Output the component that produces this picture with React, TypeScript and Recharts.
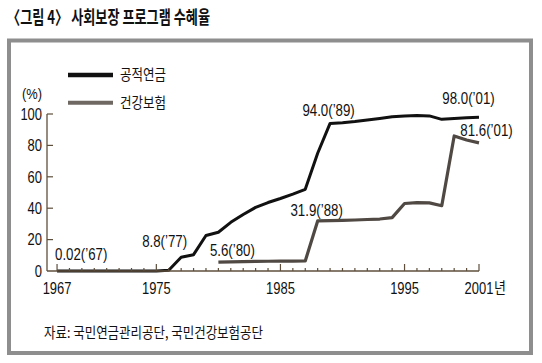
import { Line, LineChart, XAxis, YAxis } from "recharts";

const years = [
	1967, 1968, 1969, 1970, 1971, 1972, 1973, 1974, 1975, 1976, 1977, 1978,
	1979, 1980, 1981, 1982, 1983, 1984, 1985, 1986, 1987, 1988, 1989, 1990,
	1991, 1992, 1993, 1994, 1995, 1996, 1997, 1998, 1999, 2000, 2001,
];

// 공적연금
const pension = [
	0.02, 0.02, 0.03, 0.03, 0.03, 0.04, 0.04, 0.04, 0.05, 0.5, 8.8, 10.4,
	22.6, 24.7, 31, 36, 40.5, 43.6, 46.2, 49, 52, 75, 94.0, 94.5,
	95.2, 96.2, 97.2, 98.2, 98.8, 99.0, 98.8, 96.6, 97.2, 97.6, 98.0,
];

// 건강보험
const health = [
	null, null, null, null, null, null, null, null, null, null, null, null,
	null, 5.6, 5.8, 6.0, 6.1, 6.2, 6.3, 6.3, 6.4, 31.9, 32.1, 32.3,
	32.5, 32.8, 33.1, 34.0, 43.0, 43.6, 43.4, 41.6, 86.0, 83.4, 81.6,
];

const yTicks = [0, 20, 40, 60, 80, 100];
const xLabels = [1967, 1975, 1985, 1995, 2001];

const pensionNotes: Record<number, string> = {
	1967: "0.02(’67)",
	1977: "8.8(’77)",
	1989: "94.0(’89)",
	2001: "98.0(’01)",
};
const healthNotes: Record<number, string> = {
	1980: "5.6(’80)",
	1988: "31.9(’88)",
	2001: "81.6(’01)",
};

const data = years.map((year, i) => ({
	year,
	pension: pension[i],
	health: health[i],
}));

const latin = "'Liberation Sans', Arial, sans-serif";
const korean = "'Noto Sans CJK KR', 'Noto Sans', sans-serif";
const axisColor = "#5e4f3c";
const healthColor = "#4f4843";

// label placement relative to the data point
type Place = { dx: number; dy: number; anchor: "start" | "middle" | "end" };
const pensionPlace: Record<number, Place> = {
	1967: { dx: -2, dy: -17, anchor: "start" },
	1977: { dx: 6, dy: -15.5, anchor: "end" },
	1989: { dx: -1.5, dy: -13.4, anchor: "middle" },
	2001: { dx: -10.5, dy: -18.8, anchor: "middle" },
};
const healthPlace: Record<number, Place> = {
	1980: { dx: 14, dy: -12.2, anchor: "middle" },
	1988: { dx: -1, dy: -11, anchor: "middle" },
	2001: { dx: 7.5, dy: -13, anchor: "middle" },
};

const noteDot =
	(notes: Record<number, string>, places: Record<number, Place>) =>
	(props: any) => {
		const { cx, cy, payload, index } = props;
		const text = payload && notes[payload.year];
		if (!text || cx == null || cy == null) return <g key={index} />;
		const p = places[payload.year];
		return (
			<text
				key={index}
				transform={`translate(${cx + p.dx},${cy + p.dy}) scale(0.83,1)`}
				textAnchor={p.anchor}
				dy='0.36em'
				fontSize={16}
				fontFamily={latin}
				fill='#111'
			>
				{text}
			</text>
		);
	};

function XTick({ x, y, payload }: any) {
	const v = payload.value as number;
	const major = xLabels.includes(v);
	return (
		<g>
			<line
				x1={x}
				x2={x}
				y1={y}
				y2={y - (major ? 7 : 3)}
				stroke={axisColor}
				strokeWidth={1.2}
			/>
			{major && (
				<text
					transform={`translate(${x},${y + 23}) scale(0.81,1)`}
					textAnchor='middle'
					fontSize={16}
					fontFamily={latin}
					fill='#111'
				>
					{v}
				</text>
			)}
			{v === 2001 && (
				<text
					transform={`translate(${x + 15},${y + 23}) scale(0.81,1)`}
					fontSize={16}
					fontFamily={korean}
					fill='#111'
				>
					년
				</text>
			)}
		</g>
	);
}

function YTick({ x, y, payload }: any) {
	const v = payload.value as number;
	return (
		<g>
			{v > 0 && (
				<line x1={x} x2={x + 6} y1={y} y2={y} stroke={axisColor} strokeWidth={1.2} />
			)}
			<text
				transform={`translate(${x - 5},${y}) scale(0.81,1)`}
				textAnchor='end'
				dy='0.36em'
				fontSize={16}
				fontFamily={latin}
				fill='#111'
			>
				{v}
			</text>
		</g>
	);
}

export default function App() {
	return (
		<div
			style={{
				position: "absolute",
				left: 0,
				top: 0,
				width: 542,
				height: 363,
				background: "#fff",
				overflow: "hidden",
			}}
		>
			<LineChart
				width={542}
				height={363}
				data={data}
				margin={{ top: 114, right: 63, bottom: 62, left: 7 }}
			>
				<XAxis
					dataKey='year'
					type='number'
					scale='linear'
					domain={[1966.19, 2001]}
					ticks={years}
					interval={0}
					height={30}
					tickSize={0}
					tickMargin={0}
					tickLine={false}
					tick={<XTick />}
					axisLine={{ stroke: axisColor, strokeWidth: 1.3 }}
				/>
				<YAxis
					type='number'
					domain={[0, 100]}
					ticks={yTicks}
					width={40}
					tickSize={0}
					tickMargin={0}
					tickLine={false}
					tick={<YTick />}
					axisLine={{ stroke: axisColor, strokeWidth: 1.3 }}
				/>
				<Line
					type='linear'
					dataKey='health'
					stroke={healthColor}
					strokeWidth={3.2}
					strokeLinejoin='round'
					dot={noteDot(healthNotes, healthPlace)}
					activeDot={false}
					isAnimationActive={false}
				/>
				<Line
					type='linear'
					dataKey='pension'
					stroke='#111'
					strokeWidth={3}
					strokeLinejoin='round'
					dot={noteDot(pensionNotes, pensionPlace)}
					activeDot={false}
					isAnimationActive={false}
				/>
			</LineChart>

			<svg
				width={542}
				height={363}
				style={{ position: "absolute", left: 0, top: 0, pointerEvents: "none" }}
			>
				<text
					x={7}
					y={23.5}
					fontSize={18}
					fontWeight={700}
					fontFamily={korean}
					textLength={203}
					lengthAdjust='spacingAndGlyphs'
					fill='#111'
				>
					〈그림 4〉 사회보장 프로그램 수혜율
				</text>
				<rect
					x={9}
					y={40.5}
					width={522}
					height={312.5}
					fill='none'
					stroke='#8e8e8e'
					strokeWidth={4}
				/>
				<line x1={68} x2={113} y1={75} y2={75} stroke='#111' strokeWidth={4.5} />
				<line x1={68} x2={113} y1={102.7} y2={102.7} stroke='#6f6862' strokeWidth={4} />
				<text
					x={120}
					y={80}
					fontSize={15}
					fontFamily={korean}
					textLength={46}
					lengthAdjust='spacingAndGlyphs'
					fill='#111'
				>
					공적연금
				</text>
				<text
					x={120}
					y={108}
					fontSize={15}
					fontFamily={korean}
					textLength={46}
					lengthAdjust='spacingAndGlyphs'
					fill='#111'
				>
					건강보험
				</text>
				<text
					x={22}
					y={98.5}
					fontSize={15}
					fontFamily={latin}
					textLength={20}
					lengthAdjust='spacingAndGlyphs'
					fill='#111'
				>
					(%)
				</text>
				<text
					x={44}
					y={338}
					fontSize={15}
					fontFamily={korean}
					textLength={219}
					lengthAdjust='spacingAndGlyphs'
					fill='#111'
				>
					자료: 국민연금관리공단, 국민건강보험공단
				</text>
			</svg>
		</div>
	);
}
